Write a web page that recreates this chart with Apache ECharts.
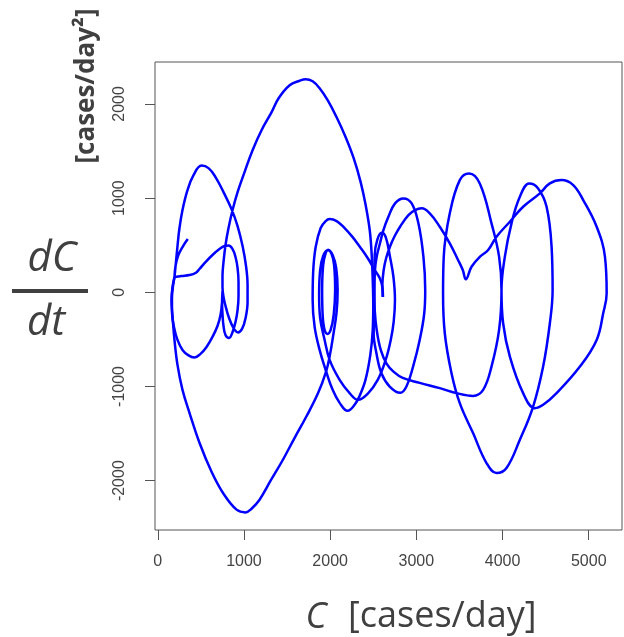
<!DOCTYPE html>
<html>
<head>
<meta charset="utf-8">
<script src="https://cdn.jsdelivr.net/npm/echarts@6/dist/echarts.min.js"></script>
<style>
html,body{margin:0;padding:0;background:#ffffff;}
#chart{width:624px;height:637px;}
</style>
</head>
<body>
<div id="chart"></div>
<script>
// Tick values
const xTicks = [0, 1000, 2000, 3000, 4000, 5000];
const yTicks = [-2000, -1000, 0, 1000, 2000];

// Trajectory pieces as [C, dC/dt] pairs
const trajLeftToEnd = [
  [348,565],[287,480],[235,385],[206,279],[194,162],[275,173],[368,183],[438,205],[484,247],[554,321],
  [635,396],[716,459],[775,491],[821,496],[868,459],[902,374],[926,258],[937,109],[937,-39],[926,-188],
  [902,-315],[868,-421],[827,-485],[786,-453],[763,-358],[751,-230],[746,-103],[751,14],[746,-103],[728,-241],
  [693,-358],[635,-474],[566,-580],[496,-654],[426,-692],[357,-670],[287,-612],[229,-506],[188,-368],[165,-209],
  [165,-60],[177,66],[194,162],[211,321],[229,491],[252,682],[287,873],[345,1084],[415,1244],[508,1345],
  [589,1318],[670,1223],[763,1063],[856,883],[926,703],[984,491],[1024,279],[1042,77],[1042,-103],[1019,-273],
  [978,-389],[931,-426],[879,-379],[827,-273],[786,-145],[763,-50],[751,56],[751,173],[763,321],[786,502],
  [821,682],[868,873],[926,1063],[1007,1276],[1100,1509],[1204,1721],[1321,1912],[1402,2060],[1530,2198],[1646,2246],
  [1715,2262],[1797,2240],[1878,2166],[1971,2039],[2075,1859],[2180,1647],[2273,1424],[2354,1170],[2412,926],[2459,661],
  [2482,396],[2494,130],[2500,-135],[2494,-400],[2466,-665],[2410,-930],[2342,-1100],[2284,-1195],[2203,-1259],[2110,-1174],
  [2029,-1036],[1959,-856],[1878,-612],[1820,-368],[1797,-81],[1803,215],[1832,480],[1890,682],[1948,756],[1994,777],
  [2075,756],[2168,682],[2261,586],[2342,486],[2435,364],[2517,236],[2575,152],[2606,56],[2613,-50]
];

const trajRightWaves = [
  [2610,-50],[2606,77],[2621,236],[2650,364],[2697,491],[2749,597],[2811,696],[2908,820],[2985,873],[3063,891],
  [3156,838],[3272,696],[3388,520],[3484,343],[3539,236],[3574,138],[3640,271],[3736,377],[3833,449],[3930,590],
  [4085,749],[4239,908],[4433,1050],[4549,1156],[4685,1191],[4820,1138],[4936,979],[5092,696],[5188,378],[5208,-11],
  [5168,-223],[5092,-506],[4898,-789],[4627,-1071],[4471,-1195],[4375,-1230],[4239,-1071],[4085,-683],[4007,-329],[3988,24],
  [4027,378],[4104,732],[4201,1014],[4309,1156],[4413,1103],[4511,908],[4569,484],[4581,24],[4549,-329],[4471,-789],
  [4355,-1213],[4201,-1566],[4046,-1866],[3930,-1919],[3814,-1813],[3658,-1495],[3504,-1177],[3408,-859],[3330,-435],[3310,-11],
  [3318,378],[3388,838],[3504,1191],[3612,1262],[3736,1156],[3872,732],[3960,378],[3988,24],[3960,-400],[3872,-789],
  [3775,-1036],[3658,-1100],[3466,-1071],[3272,-1018],[3039,-962],[2842,-909],[2738,-845],[2656,-760],[2587,-612],[2540,-400],
  [2517,-188],[2511,24],[2517,396],[2546,555],[2598,632],[2645,586],[2694,378],[2734,165],[2752,-82],[2737,-315],
  [2703,-506],[2644,-718],[2552,-930],[2435,-1078],[2323,-1142],[2226,-1071],[2110,-930],[1994,-718],[1936,-506],[1884,-273],
  [1872,-29],[1884,236],[1919,385],[1974,449],[2017,406],[2046,289],[2058,24],[2041,-241],[2006,-400],[1971,-442],
  [1936,-400],[1913,-241],[1907,24],[1919,289],[1948,417],[1977,449],[2029,396],[2070,258],[2087,24],[2075,-209],
  [2040,-432],[1994,-683],[1950,-850],[1860,-1070],[1724,-1319],[1588,-1545],[1452,-1778],[1309,-2001],[1181,-2202],[1088,-2298],
  [1019,-2337],[914,-2308],[763,-2139],[624,-1905],[484,-1598],[368,-1280],[287,-1036],[229,-771],[194,-506],[171,-251],
  [159,-81],[171,56],[194,162]
];

const loopMiddle = [
  [2513,-188],[2513,24],[2520,236],[2540,378],[2578,520],[2618,661],[2676,802],[2753,944],[2850,997],[2946,944],
  [3024,732],[3082,378],[3103,24],[3092,-220],[3039,-506],[2962,-789],[2885,-1001],[2815,-1068],[2691,-1001],[2595,-859],
  [2537,-647],[2505,-435],[2513,-188]
];

const chart = echarts.init(document.getElementById('chart'), null, {renderer: 'canvas'});
const blue = {color: '#0000FF', width: 2.5};
function pathSeries(data) {
  return {
    type: 'line', data: data, symbol: 'none', smooth: 0.4,
    lineStyle: blue, itemStyle: {color: '#0000FF'}, silent: true
  };
}
const titleColor = '#404040';
const plain = v => String(v);
chart.setOption({
  animation: false,
  backgroundColor: '#ffffff',
  grid: {left: 155, right: 2, top: 62, bottom: 107, show: true, borderColor: '#555555', borderWidth: 1, backgroundColor: 'transparent'},
  xAxis: {
    type: 'value', min: -32, max: 5386,
    axisLine: {show: false, onZero: false}, splitLine: {show: false},
    axisTick: {show: true, inside: false, length: 10, customValues: xTicks, lineStyle: {color: '#555555', width: 1}},
    axisLabel: {customValues: xTicks, formatter: plain, margin: 24, fontSize: 16, color: '#444444', fontFamily: 'Liberation Sans'}
  },
  yAxis: {
    type: 'value', min: -2524, max: 2445,
    axisLine: {show: false, onZero: false}, splitLine: {show: false},
    axisTick: {show: true, inside: false, length: 10, customValues: yTicks, lineStyle: {color: '#555555', width: 1}},
    axisLabel: {customValues: yTicks, formatter: plain, rotate: 90, margin: 27, fontSize: 16, color: '#444444', fontFamily: 'Liberation Sans'}
  },
  series: [pathSeries(trajLeftToEnd), pathSeries(trajRightWaves), pathSeries(loopMiddle)],
  graphic: [
    {type: 'text', x: 52, y: 259, style: {text: 'dC', font: 'italic 42px "Open Sans"', fill: titleColor, align: 'center', verticalAlign: 'middle'}},
    {type: 'rect', shape: {x: 12, y: 289, width: 76, height: 4}, style: {fill: titleColor}},
    {type: 'text', x: 46, y: 323, style: {text: 'dt', font: 'italic 42px "Open Sans"', fill: titleColor, align: 'center', verticalAlign: 'middle'}},
    {type: 'text', x: 87, y: 86, rotation: Math.PI / 2, style: {text: '[cases/day²]', font: 'bold 26px "Open Sans"', fill: titleColor, align: 'center', verticalAlign: 'middle'}},
    {type: 'text', x: 316, y: 618, style: {text: 'C', font: 'italic 36px "Open Sans"', fill: titleColor, align: 'center', verticalAlign: 'middle'}},
    {type: 'text', x: 348, y: 617, style: {text: '[cases/day]', font: '36px "Open Sans"', fill: titleColor, align: 'left', verticalAlign: 'middle'}}
  ]
});
</script>
</body>
</html>
